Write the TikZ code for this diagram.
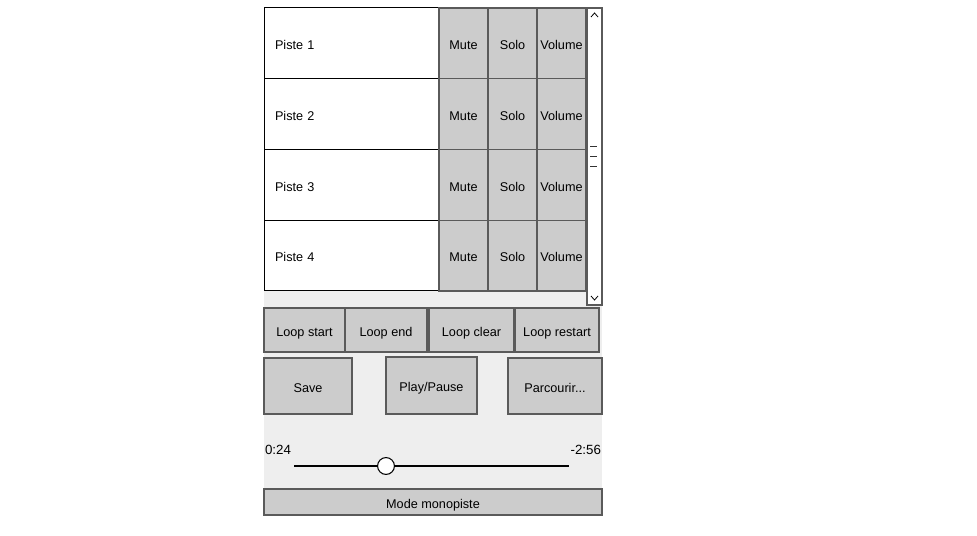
\documentclass[tikz,border=0pt]{standalone}
\usepackage{fontspec}
\setmainfont{Liberation Sans}
\usepackage{tikz}
\usetikzlibrary{positioning}
\definecolor{btngray}{HTML}{CCCCCC}
\definecolor{panelgray}{HTML}{EEEEEE}
\definecolor{edgegray}{HTML}{5A5A5A}

\begin{document}
\begin{tikzpicture}[x=0.75pt,y=-0.75pt]
\tikzstyle{every node}=[inner sep=0pt,outer sep=0pt,text height=2.1ex,text depth=0.3ex,font=\fontsize{9.5}{11}\selectfont]
\tikzstyle{track}=[rectangle,draw=black,line width=0.75pt,fill=white,minimum width=131.25pt,minimum height=53.06pt,text width=114.75pt,align=left]
\tikzstyle{trackbtn}=[rectangle,draw=edgegray,line width=1.1pt,fill=btngray,minimum width=36.75pt,minimum height=53.06pt]
\tikzstyle{btn}=[rectangle,draw=edgegray,line width=1.1pt,fill=btngray]
\tikzstyle{timelabel}=[font=\fontsize{10}{12}\selectfont,text height=1.6ex]

\useasboundingbox (0,0) rectangle (977,535);
\fill[panelgray] (264,8) rectangle (602,515);

% pistes
\node[track,anchor=north west] (p1) at (264,8) {Piste 1};
\node[track,below=0pt of p1] (p2) {Piste 2};
\node[track,below=0pt of p2] (p3) {Piste 3};
\node[track,below=0pt of p3] (p4) {Piste 4};

\node[trackbtn,right=0pt of p1] (m1) {Mute};
\node[trackbtn,right=0pt of m1] (s1) {Solo};
\node[trackbtn,right=0pt of s1] (v1) {Volume};
\node[trackbtn,right=0pt of p2] (m2) {Mute};
\node[trackbtn,right=0pt of m2] (s2) {Solo};
\node[trackbtn,right=0pt of s2] (v2) {Volume};
\node[trackbtn,right=0pt of p3] (m3) {Mute};
\node[trackbtn,right=0pt of m3] (s3) {Solo};
\node[trackbtn,right=0pt of s3] (v3) {Volume};
\node[trackbtn,right=0pt of p4] (m4) {Mute};
\node[trackbtn,right=0pt of m4] (s4) {Solo};
\node[trackbtn,right=0pt of s4] (v4) {Volume};

% scrollbar
\node[rectangle,draw=edgegray,line width=1pt,fill=white,anchor=north west,minimum width=11.25pt,minimum height=222.75pt] (scroll) at (587,8) {};
\draw[line width=0.6pt] (591,17) -- (594.5,13) -- (598,17);
\draw[line width=0.6pt] (591,296) -- (594.5,300) -- (598,296);
\draw[line width=0.6pt,black!80] (590,146) -- (597,146);
\draw[line width=0.6pt,black!80] (590,156) -- (597,156);
\draw[line width=0.6pt,black!80] (590,166) -- (597,166);

% boucle
\node[btn,anchor=north west,minimum width=60.75pt,minimum height=33pt] (lstart) at (264,308) {Loop start};
\node[btn,right=0pt of lstart,minimum width=61.5pt,minimum height=33pt] (lend) {Loop end};
\node[btn,right=1.5pt of lend,minimum width=63.75pt,minimum height=33pt] (lclear) {Loop clear};
\node[btn,right=0.75pt of lclear,minimum width=63pt,minimum height=33pt] (lrestart) {Loop restart};

% actions
\node[btn,anchor=north west,minimum width=66pt,minimum height=42pt] (save) at (264,358) {Save};
\node[btn,anchor=north west,minimum width=68.25pt,minimum height=42.75pt] (play) at (386,357) {Play/Pause};
\node[btn,anchor=north west,minimum width=70.5pt,minimum height=42pt] (browse) at (508,358) {Parcourir...};

% lecture
\node[timelabel,anchor=west] (tpos) at (265,450) {0:24};
\node[timelabel,anchor=east] (trest) at (601,450) {-2:56};
\coordinate (sl) at (294,466);
\coordinate (sr) at (569,466);
\draw[line width=0.8pt] (sl) -- (sr);
\node[circle,draw=black,line width=0.8pt,fill=white,minimum size=10.5pt] (knob) at (386,466) {};

\node[btn,anchor=north west,minimum width=253.5pt,minimum height=19.5pt] (mono) at (264,489) {Mode monopiste};
\end{tikzpicture}
\end{document}
